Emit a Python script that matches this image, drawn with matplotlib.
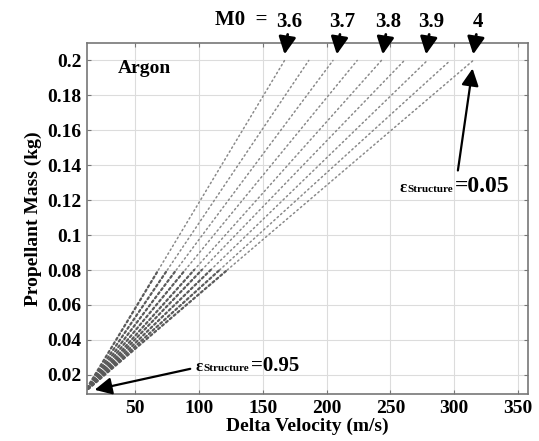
import matplotlib
matplotlib.use("Agg")
import matplotlib.pyplot as plt
from matplotlib.ticker import FormatStrFormatter
from matplotlib.offsetbox import TextArea, HPacker, AnnotationBbox

plt.rcParams["font.family"] = ["Liberation Serif", "DejaVu Serif"]
plt.rcParams["font.weight"] = "bold"

# data
v_start = 10.0
m_start = 0.01
m_break = 0.08
m_end = 0.2
v_break = [68, 75, 82, 89, 96, 102, 109, 116, 122]        # dv where each line crosses 0.08 kg
v_end = [167, 186, 205, 224, 243, 261, 279, 297, 315]     # dv at 0.2 kg
m0_labels = ["3.6", "3.7", "3.8", "3.9", "4"]
m0_dv = [167, 208, 244, 278, 315]
xticks = [50, 100, 150, 200, 250, 300, 350]
yticks = [0.02, 0.04, 0.06, 0.08, 0.1, 0.12, 0.14, 0.16, 0.18, 0.2]

fig = plt.figure(figsize=(5.39, 4.41), dpi=100)
ax = fig.add_axes([0.1614, 0.1066, 0.8182, 0.7959])

for vb, ve in zip(v_break, v_end):
    # lighter upper part
    ax.plot([vb, ve], [m_break, m_end], color="#8a8a8a", lw=1.1,
            ls=(0, (1, 2)), dash_capstyle="round")
    # denser lower part
    ax.plot([v_start, vb], [m_start, m_break], color="#5a5a5a", lw=1.6,
            ls=(0, (1, 1.3)), dash_capstyle="round")

ax.set_xlim(12, 358)
ax.set_ylim(0.009, 0.21)
ax.set_xticks(xticks)
ax.set_yticks(yticks)
ax.yaxis.set_major_formatter(FormatStrFormatter("%g"))
ax.grid(True, color="#dcdcdc", lw=0.8)
ax.set_axisbelow(True)
ax.tick_params(direction="in", top=True, right=True, length=3, color="#777777",
               labelsize=14, pad=4)
for s in ax.spines.values():
    s.set_color("#777777")
    s.set_linewidth(1.2)

ax.set_xlabel("Delta Velocity (m/s)", fontsize=14, fontweight="bold", labelpad=1)
ax.set_ylabel("Propellant Mass (kg)", fontsize=14, fontweight="bold", labelpad=4)

ax.text(36, 0.1955, "Argon", fontsize=14, fontweight="bold", va="center", ha="left")

# M0 arrows on top
ax.text(154, 0.2229, "M0  =", fontsize=15, fontweight="bold", ha="right", va="center")
for lab, dv in zip(m0_labels, m0_dv):
    ax.annotate(lab, xy=(dv, 0.2035), xytext=(dv + 4, 0.2165),
                ha="center", va="bottom", fontsize=15, fontweight="bold",
                annotation_clip=False,
                arrowprops=dict(arrowstyle="-|>", color="black", lw=2,
                                mutation_scale=26, shrinkA=0, shrinkB=0))


def eps_label(value, big):
    parts = [TextArea("\u03b5", textprops=dict(fontsize=12, fontweight="bold")),
             TextArea("Structure", textprops=dict(fontsize=8, fontweight="bold")),
             TextArea("=" + value, textprops=dict(fontsize=big, fontweight="bold"))]
    return HPacker(children=parts, align="baseline", pad=0, sep=1)


# epsilon = 0.05 annotation
ax.annotate("", xy=(314.5, 0.1954), xytext=(303, 0.137),
            arrowprops=dict(arrowstyle="-|>", color="black", lw=1.6,
                            mutation_scale=26, shrinkA=0, shrinkB=0))
ax.add_artist(AnnotationBbox(eps_label("0.05", 17), (257, 0.128), xycoords="data",
                             box_alignment=(0, 0.5), frameon=False))

# epsilon = 0.95 annotation
ax.annotate("", xy=(18, 0.0114), xytext=(93, 0.0234),
            arrowprops=dict(arrowstyle="-|>", color="black", lw=1.6,
                            mutation_scale=26, shrinkA=0, shrinkB=0))
ax.add_artist(AnnotationBbox(eps_label("0.95", 15), (97, 0.0248), xycoords="data",
                             box_alignment=(0, 0.5), frameon=False))

fig.savefig("out.png", dpi=100)
